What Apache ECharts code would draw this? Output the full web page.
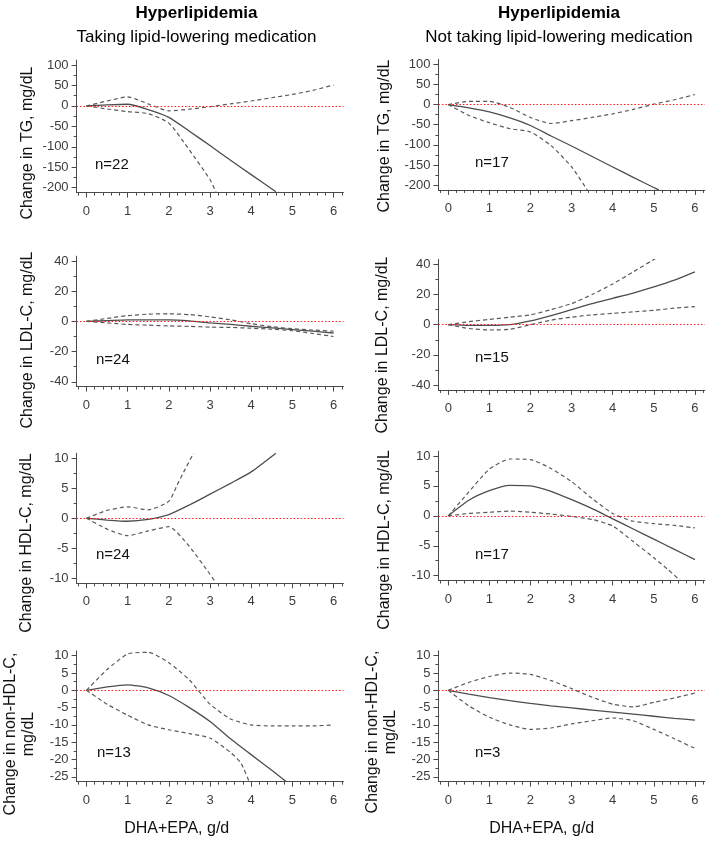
<!DOCTYPE html>
<html><head><meta charset="utf-8">
<script src="https://cdn.jsdelivr.net/npm/echarts@6/dist/echarts.min.js"></script>
<style>html,body{margin:0;padding:0;background:#fff}#c{width:709px;height:841px}</style>
</head><body><div id="c"></div>
<script>
// ---------- tick labels ----------
const xTicks = [0, 1, 2, 3, 4, 5, 6];
const tgTicks = [-200, -150, -100, -50, 0, 50, 100];
const ldlTicks = [-40, -20, 0, 20, 40];
const hdlTicks = [-10, -5, 0, 5, 10];
const nhdlTicks = [-25, -20, -15, -10, -5, 0, 5, 10];

// ---------- data (dose, g/d -> change, mg/dL) ----------
const dose = [0, 0.5, 1, 1.5, 2, 2.5, 3, 3.5, 4, 4.5, 5, 5.5, 6];

// TG, taking medication (n=22)
const tgOnEstX = [0, 0.5, 1, 1.5, 2, 2.5, 3, 3.5, 4, 4.6];
const tgOnEst  = [0, 2.5, 4, -9, -28, -62, -97, -133, -168, -210];
const tgOnUp   = [0, 12, 22, 5, -12, -8, -2, 5, 12, 20, 28, 38, 51];
const tgOnLoX  = [0, 0.5, 1, 1.5, 2, 2.5, 3, 3.15];
const tgOnLo   = [0, -7.5, -14, -19, -42, -108, -180, -212];

// TG, not taking medication (n=17)
const tgOffEstX = [0, 0.5, 1, 1.5, 2, 2.5, 3, 3.5, 4, 4.5, 5, 5.12];
const tgOffEst  = [0, -8, -18, -33, -52, -78, -103, -129, -155, -181, -206, -212];
const tgOffUp   = [0, 8, 8, -7, -32, -47, -40, -32, -23, -12, 1, 12, 25];
const tgOffLoX  = [0, 0.5, 1, 1.5, 2, 2.5, 3, 3.38];
const tgOffLo   = [0, -27, -45, -60, -68, -102, -155, -212];

// LDL-C, taking medication (n=24)
const ldlOnEst = [0, 0.5, 1, 1, 1, 0.3, -1, -2, -3.2, -4.3, -5.4, -6.5, -7.7];
const ldlOnUp  = [0, 2, 3.8, 4.8, 5, 4.5, 3, 1, -1.5, -3.5, -4.8, -5.7, -6.5];
const ldlOnLo  = [0, -1, -2, -2.5, -3, -3.3, -3.8, -4, -4.5, -5.2, -6.2, -8, -10];

// LDL-C, not taking medication (n=15)
const ldlOffEst = [0, -0.5, -0.5, 0, 2.5, 6, 10, 14, 17.5, 21, 25, 29.5, 35];
const ldlOffUpX = [0, 0.5, 1, 1.5, 2, 2.5, 3, 3.5, 4, 4.5, 5.05];
const ldlOffUp  = [0, 2, 3.5, 5, 6.5, 10, 14, 20, 27, 35, 44];
const ldlOffLo  = [0, -2.5, -3.5, -3, 0, 3, 5, 6.5, 7.5, 8.5, 9.5, 11, 12];

// HDL-C, taking medication (n=24)
const hdlOnEstX = [0, 0.5, 1, 1.5, 2, 2.5, 3, 3.5, 4, 4.6];
const hdlOnEst  = [0, -0.3, -0.5, -0.2, 0.6, 2.2, 4, 5.8, 7.7, 10.8];
const hdlOnUpX  = [0, 0.5, 1, 1.5, 2, 2.2, 2.4, 2.6];
const hdlOnUp   = [0, 1.3, 1.9, 1.4, 2.8, 5.5, 8.2, 10.8];
const hdlOnLoX  = [0, 0.5, 1, 1.5, 2, 2.5, 3, 3.15];
const hdlOnLo   = [0, -1.8, -2.9, -2.1, -1.4, -4.7, -9.3, -10.8];

// HDL-C, not taking medication (n=17)
const hdlOffEst = [0, 2.6, 4.2, 5.1, 5, 4.1, 2.7, 1.2, -0.5, -2.2, -3.9, -5.6, -7.3];
const hdlOffUp  = [0, 4, 7.8, 9.5, 9.4, 7.9, 5.7, 2.9, 0.4, -0.9, -1.3, -1.6, -2];
const hdlOffLoX = [0, 0.5, 1, 1.5, 2, 2.5, 3, 3.5, 4, 4.5, 5, 5.35, 5.64];
const hdlOffLo  = [0, 0.4, 0.6, 0.8, 0.6, 0.3, -0.1, -0.6, -1.7, -4.3, -7, -9, -10.8];

// non-HDL-C, taking medication (n=13)
const nhdlOnEstX = [0, 0.5, 1, 1.5, 2, 2.5, 3, 3.5, 4, 4.5, 4.85];
const nhdlOnEst  = [0, 1, 1.6, 0.7, -1.5, -5, -9, -14, -18.6, -23.1, -26.4];
const nhdlOnUp   = [0, 6, 10.5, 11, 8, 3, -4, -8.3, -10, -10.3, -10.3, -10.3, -10];
const nhdlOnLoX  = [0, 0.5, 1, 1.5, 2, 2.5, 3, 3.5, 3.75, 3.95];
const nhdlOnLo   = [0, -4, -7.2, -10, -11.4, -12.5, -13.8, -18, -21, -26.4];

// non-HDL-C, not taking medication (n=3)
const nhdlOffEst = [0, -1.1, -2.1, -3, -3.8, -4.5, -5.1, -5.7, -6.3, -6.9, -7.5, -8.1, -8.6];
const nhdlOffUp  = [0, 2.3, 4, 5, 4.6, 2.8, 0.5, -2, -4, -4.8, -3.5, -2.2, -0.8];
const nhdlOffLo  = [0, -4.5, -7.8, -10, -11.3, -10.9, -9.7, -8.8, -8, -8.8, -11.3, -14, -16.8];

// ---------- texts ----------
const colTitles = ['Hyperlipidemia', 'Hyperlipidemia'];
const colSubtitles = ['Taking lipid-lowering medication', 'Not taking lipid-lowering medication'];
const yTitles = ['Change in TG, mg/dL', 'Change in LDL-C, mg/dL', 'Change in HDL-C, mg/dL', 'Change in non-HDL-C,\nmg/dL'];
const xTitle = 'DHA+EPA, g/d';

// ---------- layout (positions / styles) ----------
const FONT = "'Liberation Sans', Arial, sans-serif";
const colLeft = [76.6, 438.4], colWidth = [266.8, 266.4];
const rowTop = [[60.1, 59.5], [256.2, 259.5], [453.2, 451.2], [650.9, 650.9]];
const rowH = [[132.5, 130.4], [130.4, 130.4], [130.1, 129.3], [130.7, 130.7]];
const yTitlePos = [[[28, 143], [385, 136]], [[28, 340], [383, 345]], [[27, 543], [385, 540]], [[20, 734], [382, 732]]];
const nPos = [[[95, 165], [475, 163]], [[96, 360], [475, 358]], [[96, 555], [475, 555]], [[97, 753], [475, 753]]];

const pair = (xs, ys) => xs.map((x, i) => [x, ys[i]]);

const panels = [
  {r:0,c:0,n:'n=22',ticks:tgTicks,minorStep:25,lim:[-212,112],est:pair(tgOnEstX,tgOnEst),up:pair(dose,tgOnUp),lo:pair(tgOnLoX,tgOnLo)},
  {r:0,c:1,n:'n=17',ticks:tgTicks,minorStep:25,lim:[-212,112],est:pair(tgOffEstX,tgOffEst),up:pair(dose,tgOffUp),lo:pair(tgOffLoX,tgOffLo)},
  {r:1,c:0,n:'n=24',ticks:ldlTicks,minorStep:10,lim:[-43.2,43.2],est:pair(dose,ldlOnEst),up:pair(dose,ldlOnUp),lo:pair(dose,ldlOnLo)},
  {r:1,c:1,n:'n=15',ticks:ldlTicks,minorStep:10,lim:[-43.2,43.2],est:pair(dose,ldlOffEst),up:pair(ldlOffUpX,ldlOffUp),lo:pair(dose,ldlOffLo)},
  {r:2,c:0,n:'n=24',ticks:hdlTicks,minorStep:2.5,lim:[-10.8,10.8],est:pair(hdlOnEstX,hdlOnEst),up:pair(hdlOnUpX,hdlOnUp),lo:pair(hdlOnLoX,hdlOnLo)},
  {r:2,c:1,n:'n=17',ticks:hdlTicks,minorStep:2.5,lim:[-10.8,10.8],est:pair(dose,hdlOffEst),up:pair(dose,hdlOffUp),lo:pair(hdlOffLoX,hdlOffLo)},
  {r:3,c:0,n:'n=13',ticks:nhdlTicks,minorStep:2.5,lim:[-26.4,11.4],est:pair(nhdlOnEstX,nhdlOnEst),up:pair(dose,nhdlOnUp),lo:pair(nhdlOnLoX,nhdlOnLo)},
  {r:3,c:1,n:'n=3',ticks:nhdlTicks,minorStep:2.5,lim:[-26.4,11.4],est:pair(dose,nhdlOffEst),up:pair(dose,nhdlOffUp),lo:pair(dose,nhdlOffLo)}
];

const AX = '#4a4a4a', LBL = '#3c3c3c';
const xMinor = []; for (let k = -1; k <= 31; k++) xMinor.push(+(k * 0.2).toFixed(2));

const option = {animation:false, backgroundColor:'#fff', grid:[], xAxis:[], yAxis:[], series:[], graphic:[]};

panels.forEach((p, i) => {
  option.grid.push({left:colLeft[p.c], top:rowTop[p.r][p.c], width:colWidth[p.c], height:rowH[p.r][p.c], outerBoundsMode:'none', containLabel:false});
  const yMinor = []; for (let v = p.ticks[0]; v <= p.ticks[p.ticks.length-1] + 1e-9; v += p.minorStep) yMinor.push(+v.toFixed(2));
  const base = {type:'value', gridIndex:i, splitLine:{show:false}, scale:true};
  option.xAxis.push(Object.assign({}, base, {min:-0.24, max:6.24, position:'bottom',
    axisLine:{show:true, onZero:false, lineStyle:{color:AX, width:1}},
    axisTick:{show:true, customValues:xTicks, length:5, lineStyle:{color:AX}},
    axisLabel:{show:true, customValues:xTicks, margin:12, fontSize:13, fontFamily:FONT, color:LBL}}));
  option.xAxis.push(Object.assign({}, base, {min:-0.24, max:6.24, position:'bottom', offset:0,
    axisLine:{show:false, onZero:false}, axisLabel:{show:false},
    axisTick:{show:true, customValues:xMinor, length:3, lineStyle:{color:AX}}}));
  option.yAxis.push(Object.assign({}, base, {min:p.lim[0], max:p.lim[1], position:'left',
    axisLine:{show:true, onZero:false, lineStyle:{color:AX, width:1}},
    axisTick:{show:true, customValues:p.ticks, length:5, lineStyle:{color:AX}},
    axisLabel:{show:true, customValues:p.ticks, margin:8, fontSize:13, fontFamily:FONT, color:LBL}}));
  option.yAxis.push(Object.assign({}, base, {min:p.lim[0], max:p.lim[1], position:'left', offset:0,
    axisLine:{show:false, onZero:false}, axisLabel:{show:false},
    axisTick:{show:true, customValues:yMinor, length:3, lineStyle:{color:AX}}}));
  const common = {type:'line', xAxisIndex:2*i, yAxisIndex:2*i, showSymbol:false, symbol:'none', smooth:0.2, clip:true, silent:true};
  option.series.push(Object.assign({}, common, {data:p.est, z:3, lineStyle:{color:'#4d4d4d', width:1.3, type:'solid'},
    markLine:{silent:true, symbol:['none','none'], label:{show:false}, animation:false,
      lineStyle:{color:'#ff1a1a', width:1.2, type:[1.5,2]}, data:[{yAxis:0}]}}));
  option.series.push(Object.assign({}, common, {data:p.up, lineStyle:{color:'#5a5a5a', width:1.2, type:[4,3]}}));
  option.series.push(Object.assign({}, common, {data:p.lo, lineStyle:{color:'#5a5a5a', width:1.2, type:[4,3]}}));

  // n label
  option.graphic.push({type:'text', x:nPos[p.r][p.c][0], y:nPos[p.r][p.c][1], silent:true,
    style:{text:p.n, font:'15px ' + FONT, fill:'#111', textAlign:'left', textVerticalAlign:'middle', align:'left', verticalAlign:'middle'}});
  // y title
  option.graphic.push({type:'text', x:yTitlePos[p.r][p.c][0], y:yTitlePos[p.r][p.c][1], rotation:Math.PI/2, silent:true,
    style:{text:yTitles[p.r], font:'16px ' + FONT, fill:'#111', lineHeight:18, textAlign:'center', textVerticalAlign:'middle', align:'center', verticalAlign:'middle'}});
});

// column titles and x titles
const colCenter = [196.5, 559];
const xTitleCenter = [176.7, 541.7];
[0, 1].forEach(c => {
  option.graphic.push({type:'text', x:colCenter[c], y:13, silent:true,
    style:{text:colTitles[c], font:'bold 17px ' + FONT, fill:'#000', textAlign:'center', textVerticalAlign:'middle', align:'center', verticalAlign:'middle'}});
  option.graphic.push({type:'text', x:colCenter[c], y:37, silent:true,
    style:{text:colSubtitles[c], font:'17px ' + FONT, fill:'#000', textAlign:'center', textVerticalAlign:'middle', align:'center', verticalAlign:'middle'}});
  option.graphic.push({type:'text', x:xTitleCenter[c], y:829, silent:true,
    style:{text:xTitle, font:'16px ' + FONT, fill:'#111', textAlign:'center', textVerticalAlign:'middle', align:'center', verticalAlign:'middle'}});
});

const chart = echarts.init(document.getElementById('c'), null, {renderer:'canvas'});
chart.setOption(option);
</script></body></html>
